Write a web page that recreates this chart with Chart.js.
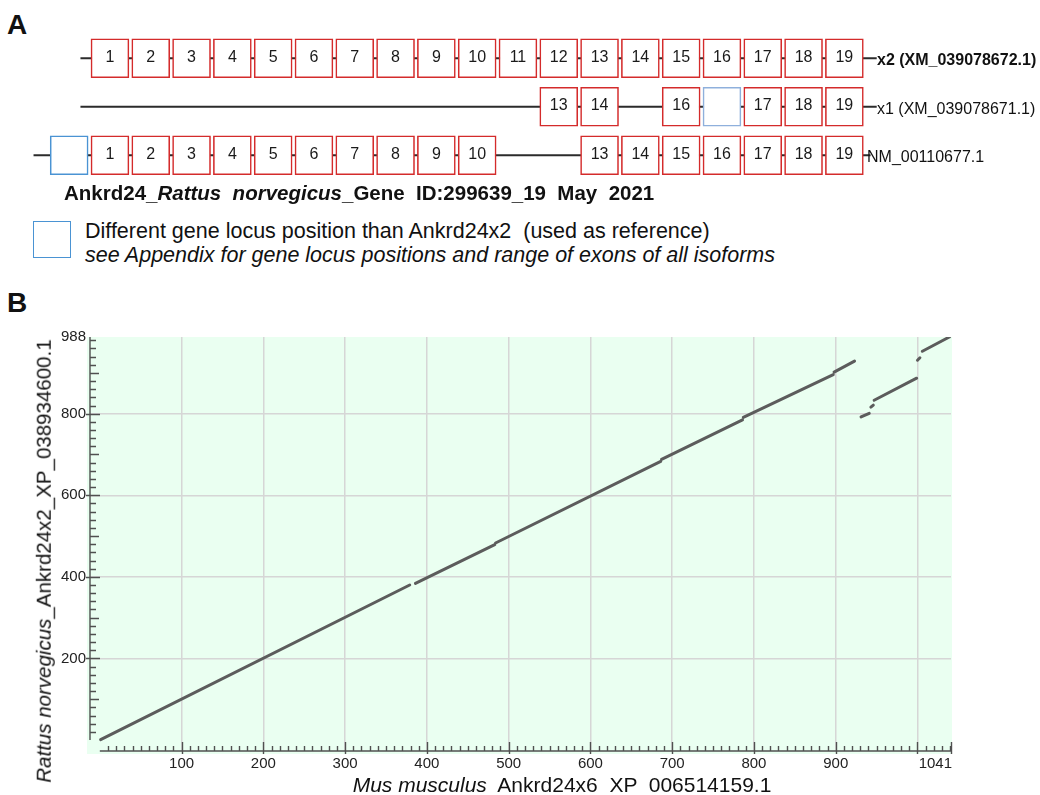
<!DOCTYPE html>
<html lang="en">
<head>
    <meta charset="UTF-8">
    <title>Ankrd24 isoforms and dot plot</title>
    <script src="https://cdn.jsdelivr.net/npm/chart.js@4.4.0/dist/chart.umd.min.js"></script>
    <style>
        body {
            margin: 0;
            width: 1040px;
            height: 795px;
            position: relative;
            overflow: hidden;
            background: #ffffff;
            font-family: "Liberation Sans", Arial, sans-serif;
            color: #111;
        }
        canvas { position: absolute; left: 0; }
        #genes { top: 0; }
        #dots { top: 320px; }
        .txt {
            position: absolute;
            white-space: pre;
            line-height: 1;
        }
        .panel { font-size: 28px; font-weight: bold; }
        .legend-box {
            position: absolute;
            left: 33px; top: 221px;
            width: 38px; height: 37px;
            box-sizing: border-box;
            border: 1.5px solid #4a93d3;
        }
    </style>
</head>
<body>
    <div class="txt panel" style="left:7px; top:11px;">A</div>
    <div class="txt panel" style="left:7px; top:289px;">B</div>

    <canvas id="genes" width="1040" height="190"></canvas>
    <canvas id="dots" width="1040" height="475"></canvas>

    <!-- isoform names next to each row -->
    <div class="txt" style="left:877px; top:52px; font-size:16px; font-weight:bold;">x2 (XM_039078672.1)</div>
    <div class="txt" style="left:877px; top:101px; font-size:16px;">x1 (XM_039078671.1)</div>
    <div class="txt" style="left:867px; top:149px; font-size:16px;">NM_00110677.1</div>

    <div class="txt" style="left:64px; top:183px; font-size:20.5px; font-weight:bold;">Ankrd24_<i>Rattus  norvegicus</i>_Gene  ID:299639_19  May  2021</div>
    <div class="legend-box"></div>
    <div class="txt" style="left:85px; top:221px; font-size:21.5px;">Different gene locus position than Ankrd24x2  (used as reference)</div>
    <div class="txt" style="left:85px; top:245px; font-size:21.5px; font-style:italic;">see Appendix for gene locus positions and range of exons of all isoforms</div>

    <div class="txt" style="left:44px; top:561px; font-size:20.5px; transform:translate(-50%,-50%) rotate(-90deg);"><i>Rattus norvegicus</i>_Ankrd24x2_XP_038934600.1</div>
    <div class="txt" style="left:562px; top:774px; font-size:21px; transform:translateX(-50%);"><i>Mus musculus</i>  Ankrd24x6  XP  006514159.1</div>

    <script>
        // ---- panel A: exon layout, slot 1..19 = exon positions of x2 ----
        const isoforms = ['x2 (XM_039078672.1)', 'x1 (XM_039078671.1)', 'NM_00110677.1'];
        const x2Slots = [1, 2, 3, 4, 5, 6, 7, 8, 9, 10, 11, 12, 13, 14, 15, 16, 17, 18, 19];
        const x2Names = ['1', '2', '3', '4', '5', '6', '7', '8', '9', '10', '11', '12', '13', '14', '15', '16', '17', '18', '19'];
        const x1Slots = [12, 13, 15, 16, 17, 18, 19];
        const x1Names = ['13', '14', '16', '', '17', '18', '19'];
        const nmSlots = [0, 1, 2, 3, 4, 5, 6, 7, 8, 9, 10, 13, 14, 15, 16, 17, 18, 19];
        const nmNames = ['', '1', '2', '3', '4', '5', '6', '7', '8', '9', '10', '13', '14', '15', '16', '17', '18', '19'];
        // '' = exon with a different locus position (blue box)
        const lineFrom = [0.75, 0.75, -0.4];
        const lineTo = [20.25, 20.25, 20.1];
        const boxWidth = 0.93;

        // ---- panel B: dot plot segments (mouse x6 vs rat x2) ----
        const mouseFrom = [1, 386, 484, 687, 787, 898, 931, 943, 947, 1000, 1006];
        const mouseTo   = [379, 483, 686, 786, 897, 923, 941, 946, 999, 1003, 1039];
        const ratFrom   = [1, 384, 483, 688, 791, 902, 792, 816, 833, 931, 953];
        const ratTo     = [380, 479, 683, 785, 896, 929, 801, 821, 887, 937, 988];
        const xTicks = [100, 200, 300, 400, 500, 600, 700, 800, 900, 1000, 1041];
        const yTicks = [200, 400, 600, 800, 988];

        const rows = [
            { slots: x2Slots, names: x2Names },
            { slots: x1Slots, names: x1Names },
            { slots: nmSlots, names: nmNames }
        ];

        const exonSets = [];
        for (let s = 0; s <= 19; s++) {
            const data = [];
            const names = [];
            rows.forEach(r => {
                const k = r.slots.indexOf(s);
                data.push(k < 0 ? null : [s, s + boxWidth]);
                names.push(k < 0 ? null : r.names[k]);
            });
            exonSets.push({
                data: data,
                names: names,
                backgroundColor: '#ffffff',
                borderColor: ctx => {
                    const n = ctx.dataset.names[ctx.dataIndex];
                    if (n === '') return ctx.dataIndex === 1 ? '#8fb0dc' : '#4a93d3';
                    return '#d42b2b';
                },
                borderWidth: 1.6,
                borderSkipped: false,
                barThickness: 39,
                order: 1
            });
        }

        const exonText = {
            id: 'exonText',
            afterDatasetsDraw(chart) {
                const ctx = chart.ctx;
                ctx.save();
                ctx.font = '16px "Liberation Sans", Arial, sans-serif';
                ctx.fillStyle = '#1a1a1a';
                ctx.textAlign = 'center';
                ctx.textBaseline = 'middle';
                chart.data.datasets.forEach((ds, i) => {
                    if (!ds.names) return;
                    chart.getDatasetMeta(i).data.forEach((bar, j) => {
                        if (ds.data[j] == null || !ds.names[j]) return;
                        const p = bar.getProps(['x', 'y', 'base'], true);
                        ctx.fillText(ds.names[j], (p.x + p.base) / 2, p.y - 1);
                    });
                });
                ctx.restore();
            }
        };

        new Chart(document.getElementById('genes'), {
            type: 'bar',
            data: {
                labels: isoforms,
                datasets: [
                    {
                        data: lineFrom.map((a, i) => [a, lineTo[i]]),
                        backgroundColor: '#2b2b2b',
                        borderWidth: 0,
                        barThickness: 1.4,
                        order: 2
                    },
                    ...exonSets
                ]
            },
            options: {
                responsive: false,
                animation: false,
                indexAxis: 'y',
                layout: { padding: { top: 34, bottom: 10.5, left: 0, right: 0 } },
                datasets: { bar: { grouped: false } },
                plugins: { legend: { display: false }, tooltip: { enabled: false } },
                scales: {
                    x: { type: 'linear', min: -1.23, max: 24.26, display: false },
                    y: { type: 'category', display: false }
                }
            },
            plugins: [exonText]
        });

        // ---- panel B ----
        const axisColor = '#505050';
        const dotAxes = {
            id: 'dotAxes',
            beforeDraw(chart) {
                const { ctx, chartArea: a } = chart;
                ctx.save();
                ctx.fillStyle = '#eafff1';
                ctx.fillRect(a.left - 3, a.top, a.right - a.left + 4, a.bottom - a.top + 3);
                ctx.restore();
            },
            afterDatasetsDraw(chart) {
                const { ctx, chartArea: a, scales: { x, y } } = chart;
                ctx.save();
                ctx.strokeStyle = axisColor;
                ctx.lineWidth = 1.4;
                ctx.beginPath();
                // y axis
                ctx.moveTo(a.left, y.getPixelForValue(0));
                ctx.lineTo(a.left, y.getPixelForValue(988));
                for (let v = 20; v <= 988; v += 20) {
                    const val = v > 980 ? 988 : v;
                    const py = Math.round(y.getPixelForValue(val)) + 0.5;
                    let x1 = a.left, x2 = a.left + 6;
                    if (val % 200 === 0 || val === 988) { x1 = a.left - 4; x2 = a.left + 10; }
                    else if (val % 100 === 0) { x2 = a.left + 9; }
                    ctx.moveTo(x1, py);
                    ctx.lineTo(x2, py);
                }
                // x axis
                ctx.moveTo(x.getPixelForValue(0), a.bottom);
                ctx.lineTo(x.getPixelForValue(1041), a.bottom);
                for (let v = 10; v <= 1050; v += 10) {
                    const val = v > 1040 ? 1041 : v;
                    const px = Math.round(x.getPixelForValue(val)) + 0.5;
                    let y1 = a.bottom - 5, y2 = a.bottom;
                    if (val % 100 === 0 || val === 1041) { y1 = a.bottom - 9; y2 = a.bottom + 3; }
                    ctx.moveTo(px, y1);
                    ctx.lineTo(px, y2);
                }
                ctx.stroke();
                // last x label sits to the left of its tick
                ctx.fillStyle = '#222';
                ctx.font = '15px "Liberation Sans", Arial, sans-serif';
                ctx.textAlign = 'right';
                ctx.textBaseline = 'middle';
                ctx.fillText('1041', x.getPixelForValue(1041) + 1, a.bottom + 13);
                ctx.restore();
            }
        };

        const segments = mouseFrom.map((m, i) => ({
            data: [{ x: m, y: ratFrom[i] }, { x: mouseTo[i], y: ratTo[i] }],
            showLine: true,
            borderColor: '#5c5c5c',
            borderWidth: 3,
            borderCapStyle: 'round',
            pointRadius: 0
        }));

        const gridColor = ctx => (ctx.tick && (ctx.tick.value === 988 || ctx.tick.value === 1041)) ? 'rgba(0,0,0,0)' : '#d6d6d6';

        new Chart(document.getElementById('dots'), {
            type: 'scatter',
            data: { datasets: segments },
            options: {
                responsive: false,
                animation: false,
                layout: { padding: { top: 17, right: 89, bottom: 0, left: 0 } },
                plugins: { legend: { display: false }, tooltip: { enabled: false } },
                scales: {
                    x: {
                        type: 'linear',
                        min: -12,
                        max: 1041,
                        afterFit: s => { s.height = 44; },
                        afterBuildTicks: s => { s.ticks = xTicks.map(v => ({ value: v })); },
                        border: { display: false },
                        grid: { color: gridColor, lineWidth: 1.5, drawTicks: false },
                        ticks: {
                            padding: 4,
                            color: '#222',
                            font: { family: '"Liberation Sans", Arial, sans-serif', size: 15 },
                            maxRotation: 0,
                            autoSkip: false,
                            callback: v => (v === 1000 || v === 1041) ? '' : String(v)
                        }
                    },
                    y: {
                        type: 'linear',
                        min: -27,
                        max: 988,
                        afterFit: s => { s.width = 90; },
                        afterBuildTicks: s => { s.ticks = yTicks.map(v => ({ value: v })); },
                        border: { display: false },
                        grid: { color: gridColor, lineWidth: 1.5, drawTicks: false },
                        ticks: {
                            padding: 4,
                            color: '#222',
                            font: { family: '"Liberation Sans", Arial, sans-serif', size: 15 },
                            autoSkip: false,
                            callback: v => String(v)
                        }
                    }
                }
            },
            plugins: [dotAxes]
        });
    </script>
</body>
</html>
